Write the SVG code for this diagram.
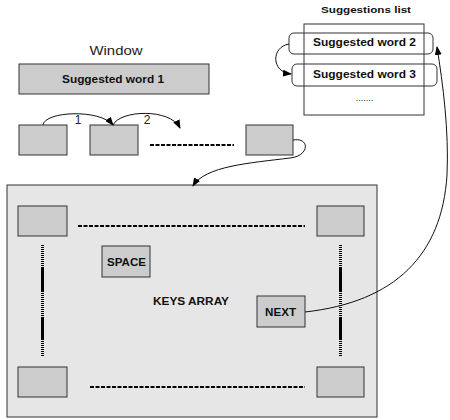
<svg xmlns="http://www.w3.org/2000/svg" width="450" height="420" viewBox="0 0 450 420">
<defs>
<marker id="ah" markerWidth="9" markerHeight="7" refX="8" refY="3.5" orient="auto" markerUnits="userSpaceOnUse">
<path d="M0,0 L9,3.5 L0,7 Z" fill="#000"/>
</marker>
<style>
.key{fill:#cccccc;stroke:#333;stroke-width:1}
.lbl{font-family:"Liberation Sans",Arial,sans-serif;font-weight:bold;fill:#111}
.reg{font-family:"Liberation Sans",Arial,sans-serif;fill:#222}
.conn{fill:none;stroke:#111;stroke-width:1;marker-end:url(#ah)}
.hd{fill:none;stroke:#000;stroke-width:2;stroke-dasharray:4 1.5}
.vd{fill:none;stroke:#000;stroke-width:3;stroke-dasharray:1 1}
.vs{fill:none;stroke:#000;stroke-width:3}
</style>
</defs>
<rect width="450" height="420" fill="#fff"/>

<g id="window">
<text class="reg" x="116" y="55" font-size="12" text-anchor="middle" textLength="53" lengthAdjust="spacingAndGlyphs">Window</text>
<rect class="key" x="19" y="64" width="190" height="30"/>
<text class="lbl" x="113" y="83" font-size="10.5" text-anchor="middle" textLength="102" lengthAdjust="spacingAndGlyphs">Suggested word  1</text>
</g>

<g id="slot1"><rect class="key" x="19" y="125" width="48" height="30"/></g>
<g id="slot2"><rect class="key" x="90" y="125" width="48" height="30"/></g>
<g id="slot3"><rect class="key" x="246" y="125" width="47" height="30"/></g>

<g id="suggestions">
<text class="lbl" x="366" y="13" font-size="9.5" text-anchor="middle" textLength="90" lengthAdjust="spacingAndGlyphs">Suggestions list</text>
<rect x="304" y="24" width="120" height="91" fill="#fff" stroke="#333" stroke-width="1"/>
<rect x="289" y="33" width="144" height="21" rx="5" fill="none" stroke="#333" stroke-width="1"/>
<text class="lbl" x="364.5" y="46" font-size="10.5" text-anchor="middle" textLength="103" lengthAdjust="spacingAndGlyphs">Suggested word 2</text>
<rect x="292" y="64" width="145" height="22" rx="5" fill="none" stroke="#333" stroke-width="1"/>
<text class="lbl" x="364.5" y="78" font-size="10.5" text-anchor="middle" textLength="103" lengthAdjust="spacingAndGlyphs">Suggested word 3</text>
<text class="reg" x="364.5" y="101" font-size="9" text-anchor="middle">.......</text>
</g>

<g id="keys-array">
<rect x="7" y="185" width="370" height="232" fill="#e6e6e6" stroke="#333" stroke-width="1"/>
<text class="lbl" x="191" y="305" font-size="10" text-anchor="middle" textLength="76" lengthAdjust="spacingAndGlyphs">KEYS ARRAY</text>
</g>
<g id="key-tl"><rect class="key" x="18" y="206" width="49" height="30"/></g>
<g id="key-tr"><rect class="key" x="317" y="206" width="47" height="30"/></g>
<g id="key-bl"><rect class="key" x="18" y="367" width="49" height="30"/></g>
<g id="key-br"><rect class="key" x="317" y="367" width="47" height="30"/></g>
<g id="space">
<rect class="key" x="102" y="246" width="48" height="31"/>
<text class="lbl" x="126.5" y="265.5" font-size="10" text-anchor="middle" textLength="39" lengthAdjust="spacingAndGlyphs">SPACE</text>
</g>
<g id="next">
<rect class="key" x="257" y="296" width="48" height="31"/>
<text class="lbl" x="280.5" y="315.5" font-size="10" text-anchor="middle" textLength="31" lengthAdjust="spacingAndGlyphs">NEXT</text>
</g>

<g id="connectors">
<path class="hd" d="M150,145 H234"/>
<path class="hd" d="M78,226 H305"/>
<path class="hd" d="M90,387 H305"/>
<path class="vd" d="M42.5,245 V356"/>
<path class="vs" d="M42.5,267 V292 M42.5,318 V340"/>
<path class="vd" d="M340.5,245 V356"/>
<path class="vs" d="M340.5,267 V292 M340.5,318 V340"/>
<path class="conn" d="M43,125 C45,111 100,109 113,125"/>
<text class="reg" x="78" y="124" font-size="12" text-anchor="middle">1</text>
<path class="conn" d="M113,125 C120,110 170,108 180,128"/>
<text class="reg" x="147" y="124" font-size="12" text-anchor="middle">2</text>
<path class="conn" d="M293,140 C310,137 310,156 290,158 C250,163 205,166 193,186"/>
<path class="conn" d="M289,44 C271,47 271,72 291,74"/>
<path class="conn" d="M305,312 C395,302 442,255 447,175 C449,130 443,85 437,47"/>
</g>
</svg>
